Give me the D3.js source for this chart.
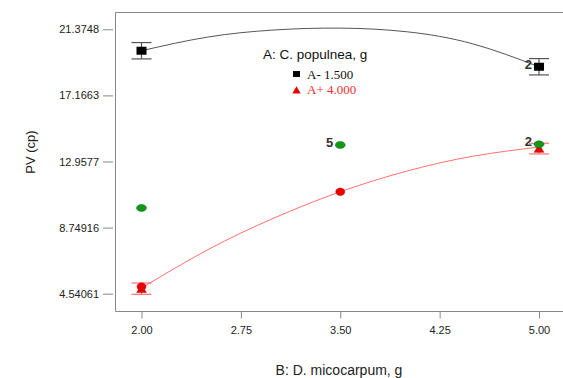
<!DOCTYPE html>
<html>
<head>
<meta charset="utf-8">
<script src="https://cdn.jsdelivr.net/npm/d3@7"></script>
<style>
  body { margin: 0; background: #fff; }
  svg { display: block; }
  .tick text { font-family: Arial, "Liberation Sans", sans-serif; font-size: 11px; fill: #222; }
  .tick line { stroke: #888; }
</style>
</head>
<body>
<svg width="563" height="378"></svg>
<script>
// axis ticks
var xTicks = [2.00, 2.75, 3.50, 4.25, 5.00];
var yTicks = [4.54061, 8.74916, 12.9577, 17.1663, 21.3748];

// fitted lines for the two levels of A
var curveX = [2.0, 2.5, 3.0, 3.5, 4.0, 4.5, 5.0];
var lowFit = [20.01, 20.88, 21.33, 21.45, 21.22, 20.45, 18.99];
var highFit = [4.90, 7.34, 9.36, 11.03, 12.34, 13.29, 13.88];

// predicted means with LSD bars at the design levels of B
var levelX = [2.0, 5.0];
var lowMean = [20.01, 18.99];
var lowErr = [0.52, 0.52];
var highMean = [4.86, 13.78];
var highErr = [0.36, 0.34];

// design points
var greenX = [2.0, 3.5, 5.0];
var greenY = [10.0, 14.01, 14.05];
var greenLabel = ["", "5", "2"];
var redX = [2.0, 3.5];
var redY = [4.99, 11.03];

var svg = d3.select("svg");
var x = d3.scaleLinear().domain([1.8, 5.181]).range([115, 563]);
var y = d3.scaleLinear().domain([3.439, 22.476]).range([311, 12]);

// frame (left, top, bottom)
svg.append("path")
    .attr("d", "M563,12.5H115.5V311.5H563")
    .attr("fill", "none")
    .attr("stroke", "#888");

var gx = svg.append("g")
    .attr("transform", "translate(0,311.5)")
    .call(d3.axisBottom(x).tickValues(xTicks).tickFormat(d3.format(".2f")).tickSize(7).tickPadding(8));
gx.select(".domain").remove();

var gy = svg.append("g")
    .attr("transform", "translate(113,0)")
    .call(d3.axisLeft(y).tickValues(yTicks).tickFormat(function (d) { return String(d); }).tickSize(10).tickPadding(4));
gy.select(".domain").remove();

svg.append("text")
    .attr("x", 339).attr("y", 375)
    .attr("text-anchor", "middle")
    .style("font-family", "Arial, 'Liberation Sans', sans-serif")
    .style("font-size", "14px").style("fill", "#222")
    .text("B: D. micocarpum, g");

svg.append("text")
    .attr("transform", "translate(35,152) rotate(-90)")
    .attr("text-anchor", "middle")
    .style("font-family", "Arial, 'Liberation Sans', sans-serif")
    .style("font-size", "13px").style("fill", "#222")
    .text("PV (cp)");

// fitted curves
var line = d3.line()
    .x(function (d) { return x(d[0]); })
    .y(function (d) { return y(d[1]); })
    .curve(d3.curveNatural);

svg.append("path")
    .datum(d3.zip(curveX, lowFit))
    .attr("d", line)
    .attr("fill", "none").attr("stroke", "#555").attr("stroke-width", 1);

svg.append("path")
    .datum(d3.zip(curveX, highFit))
    .attr("d", line)
    .attr("fill", "none").attr("stroke", "#ff7070").attr("stroke-width", 1);

// error bars
function errorBars(means, errs, color) {
    var g = svg.append("g").attr("stroke", color).attr("stroke-width", 1.2);
    levelX.forEach(function (lx, i) {
        var cx = x(lx), lo = y(means[i] - errs[i]), hi = y(means[i] + errs[i]);
        g.append("line").attr("x1", cx).attr("x2", cx).attr("y1", lo).attr("y2", hi);
        g.append("line").attr("x1", cx - 10).attr("x2", cx + 10).attr("y1", lo).attr("y2", lo);
        g.append("line").attr("x1", cx - 10).attr("x2", cx + 10).attr("y1", hi).attr("y2", hi);
    });
}
errorBars(lowMean, lowErr, "#555");
errorBars(highMean, highErr, "#ff7070");

// black squares (A-)
svg.selectAll(".sq")
    .data(d3.zip(levelX, lowMean))
    .enter().append("rect")
    .attr("class", "sq")
    .attr("x", function (d) { return x(d[0]) - 5; })
    .attr("y", function (d) { return y(d[1]) - 4; })
    .attr("width", 10).attr("height", 8)
    .attr("fill", "#000");

// red triangles (A+)
var tri = d3.symbol().type(d3.symbolTriangle).size(40);
svg.selectAll(".tri")
    .data(d3.zip(levelX, highMean))
    .enter().append("path")
    .attr("class", "tri")
    .attr("transform", function (d) { return "translate(" + x(d[0]) + "," + (y(d[1]) + 1) + ")"; })
    .attr("d", tri)
    .attr("fill", "#e00").attr("stroke", "#a00").attr("stroke-width", 0.5);

// design points
svg.selectAll(".rc")
    .data(d3.zip(redX, redY))
    .enter().append("ellipse")
    .attr("class", "rc")
    .attr("cx", function (d) { return x(d[0]); })
    .attr("cy", function (d) { return y(d[1]); })
    .attr("rx", 4.5).attr("ry", 3.8)
    .attr("fill", "#ee0000").attr("stroke", "#a00").attr("stroke-width", 0.5);

svg.selectAll(".gc")
    .data(d3.zip(greenX, greenY))
    .enter().append("ellipse")
    .attr("class", "gc")
    .attr("cx", function (d) { return x(d[0]); })
    .attr("cy", function (d) { return y(d[1]); })
    .attr("rx", 5).attr("ry", 3.5)
    .attr("fill", "#119911").attr("stroke", "#063").attr("stroke-width", 0.5);

// point counts
var counts = [[greenX[1], greenY[1], greenLabel[1]], [greenX[2], greenY[2], greenLabel[2]], [levelX[1], lowMean[1], "2"]];
svg.selectAll(".cnt")
    .data(counts)
    .enter().append("text")
    .attr("class", "cnt")
    .attr("x", function (d) { return x(d[0]) - 7; })
    .attr("y", function (d) { return y(d[1]) + 2; })
    .attr("text-anchor", "end")
    .style("font-family", "Arial, 'Liberation Sans', sans-serif")
    .style("font-size", "13px").style("font-weight", "bold").style("fill", "#333")
    .text(function (d) { return d[2]; });

// legend
svg.append("text")
    .attr("x", 263).attr("y", 58.5)
    .style("font-family", "Arial, 'Liberation Sans', sans-serif")
    .style("font-size", "13.5px").style("fill", "#111")
    .text("A: C. populnea, g");

svg.append("rect")
    .attr("x", 293).attr("y", 71).attr("width", 7).attr("height", 6)
    .attr("fill", "#000");
svg.append("text")
    .attr("x", 307).attr("y", 78.7)
    .style("font-family", "'Liberation Serif', 'Times New Roman', serif")
    .style("font-size", "13px").style("fill", "#111")
    .text("A- 1.500");

svg.append("path")
    .attr("transform", "translate(296.5,91)")
    .attr("d", d3.symbol().type(d3.symbolTriangle).size(30))
    .attr("fill", "#e00");
svg.append("text")
    .attr("x", 307).attr("y", 94.3)
    .style("font-family", "'Liberation Serif', 'Times New Roman', serif")
    .style("font-size", "13px").style("fill", "#f03030")
    .text("A+ 4.000");
</script>
</body>
</html>
